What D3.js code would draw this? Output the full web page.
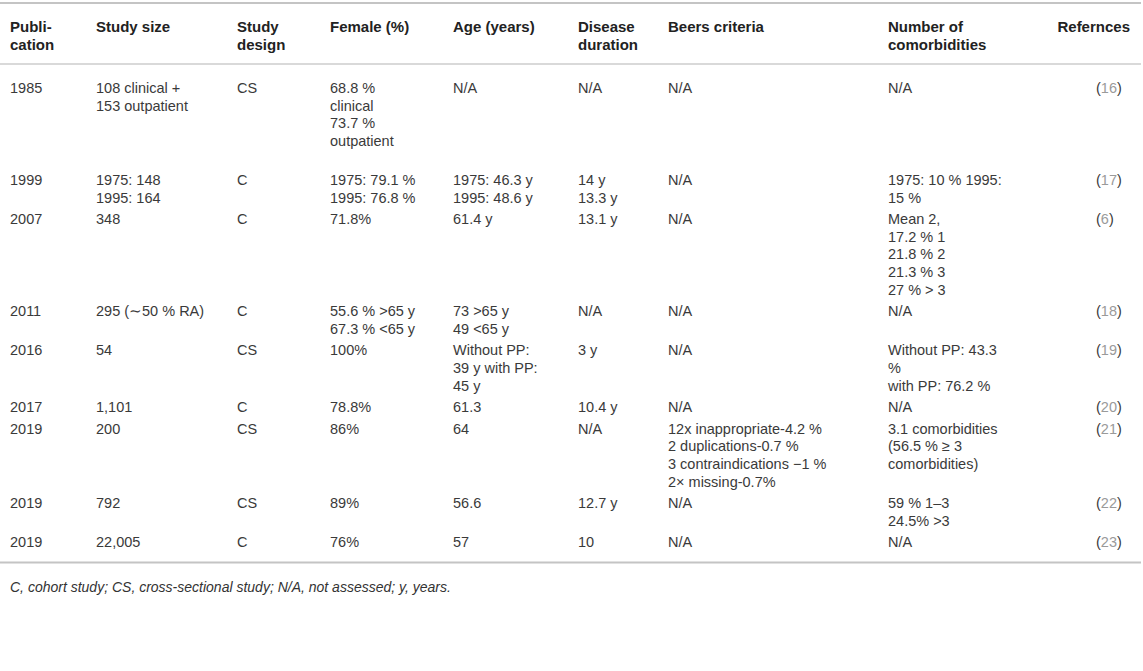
<!DOCTYPE html>
<html>
<head>
<meta charset="utf-8">
<script src="https://cdn.jsdelivr.net/npm/d3@7"></script>
<style>
    body { margin: 0; background: #fff; }
    text { font-family: "Liberation Sans", Arial, sans-serif; }
</style>
</head>
<body>
<script>
(function () {
    // column headers ("\n" = line break as in the original table)
    var headers = ["Publi-\ncation", "Study size", "Study\ndesign", "Female (%)", "Age (years)",
                   "Disease\nduration", "Beers criteria", "Number of\ncomorbidities", "Refernces"];

    var publication = ["1985", "1999", "2007", "2011", "2016", "2017", "2019", "2019", "2019"];
    var studySize = ["108 clinical +\n153 outpatient", "1975: 148\n1995: 164", "348", "295 (\u223C50 % RA)",
                     "54", "1,101", "200", "792", "22,005"];
    var studyDesign = ["CS", "C", "C", "C", "CS", "C", "CS", "CS", "C"];
    var female = ["68.8 %\nclinical\n73.7 %\noutpatient\n", "1975: 79.1 %\n1995: 76.8 %", "71.8%",
                  "55.6 % >65 y\n67.3 % <65 y", "100%", "78.8%", "86%", "89%", "76%"];
    var age = ["N/A", "1975: 46.3 y\n1995: 48.6 y", "61.4 y", "73 >65 y\n49 <65 y",
               "Without PP:\n39 y with PP:\n45 y", "61.3", "64", "56.6", "57"];
    var duration = ["N/A", "14 y\n13.3 y", "13.1 y", "N/A", "3 y", "10.4 y", "N/A", "12.7 y", "10"];
    var beers = ["N/A", "N/A", "N/A", "N/A", "N/A", "N/A",
                 "12x inappropriate-4.2 %\n2 duplications-0.7 %\n3 contraindications \u22121 %\n2\u00D7 missing-0.7%",
                 "N/A", "N/A"];
    var comorbidities = ["N/A", "1975: 10 % 1995:\n15 %", "Mean 2,\n17.2 % 1\n21.8 % 2\n21.3 % 3\n27 % > 3",
                         "N/A", "Without PP: 43.3\n%\nwith PP: 76.2 %", "N/A",
                         "3.1 comorbidities\n(56.5 % \u2265 3\ncomorbidities)", "59 % 1\u20133\n24.5% >3", "N/A"];
    var references = ["16", "17", "6", "18", "19", "20", "21", "22", "23"];

    var footnote = "C, cohort study; CS, cross-sectional study; N/A, not assessed; y, years.";

    var width = 1143,
        height = 671,
        lineHeight = 17.6,
        rowPad = 4,
        firstRowY = 88,
        fontSize = 14.5,
        headSize = 15;

    var columns = [publication, studySize, studyDesign, female, age, duration, beers, comorbidities, references];
    var refCol = headers.length - 1;

    var x = d3.scaleOrdinal()
        .domain(d3.range(headers.length))
        .range([10, 96, 237, 330, 453, 578, 668, 888, 1096]);

    var svg = d3.select("body")
        .append("svg")
        .attr("width", width)
        .attr("height", height);

    // rows built from the column arrays
    var rows = publication.map(function (d, i) {
        var cells = columns.map(function (col) { return col[i].split("\n"); });
        return { cells: cells, lines: d3.max(cells, function (c) { return c.length; }) };
    });

    var y = firstRowY;
    rows.forEach(function (r) {
        r.y = y;
        y += r.lines * lineHeight + rowPad;
    });
    var bottomY = rows[rows.length - 1].y + 20;

    // rules
    svg.append("line")
        .attr("x1", 0).attr("x2", 1141)
        .attr("y1", 3).attr("y2", 3)
        .style("stroke", "#c4c4c4")
        .style("stroke-width", 2);

    svg.append("line")
        .attr("x1", 0).attr("x2", 1141)
        .attr("y1", 64).attr("y2", 64)
        .style("stroke", "#cccccc")
        .style("stroke-width", 1.5);

    svg.append("line")
        .attr("x1", 0).attr("x2", 1141)
        .attr("y1", bottomY).attr("y2", bottomY)
        .style("stroke", "#c4c4c4")
        .style("stroke-width", 2);

    // header
    var head = svg.append("g").attr("class", "header");
    headers.forEach(function (h, j) {
        var hx = j === refCol ? 1130 : x(j);
        var t = head.append("text")
            .attr("x", hx)
            .attr("y", 27)
            .attr("text-anchor", j === refCol ? "end" : "start")
            .style("font-size", headSize + "px")
            .style("font-weight", "bold")
            .style("fill", "#222");
        h.split("\n").forEach(function (line, k) {
            t.append("tspan")
                .attr("x", hx)
                .attr("y", 27 + k * 18)
                .attr("dy", "0.35em")
                .text(line);
        });
    });

    // body
    var rowG = svg.selectAll(".row")
        .data(rows)
        .enter()
        .append("g")
        .attr("class", "row");

    rowG.each(function (r) {
        var g = d3.select(this);
        r.cells.forEach(function (lines, j) {
            var t = g.append("text")
                .attr("x", x(j))
                .attr("y", r.y)
                .style("font-size", fontSize + "px")
                .style("fill", "#3a3a3a");
            if (j === refCol) {
                t.attr("dy", "0.35em");
                t.append("tspan").text("(");
                t.append("tspan").style("fill", "#9a9a9a").text(lines[0]);
                t.append("tspan").text(")");
                return;
            }
            lines.forEach(function (line, k) {
                t.append("tspan")
                    .attr("x", x(j))
                    .attr("y", r.y + k * lineHeight)
                    .attr("dy", "0.35em")
                    .text(line);
            });
        });
    });

    svg.append("text")
        .attr("x", 10)
        .attr("y", bottomY + 25)
        .attr("dy", "0.35em")
        .style("font-size", "14px")
        .style("font-style", "italic")
        .style("fill", "#333")
        .text(footnote);
})();
</script>
</body>
</html>
